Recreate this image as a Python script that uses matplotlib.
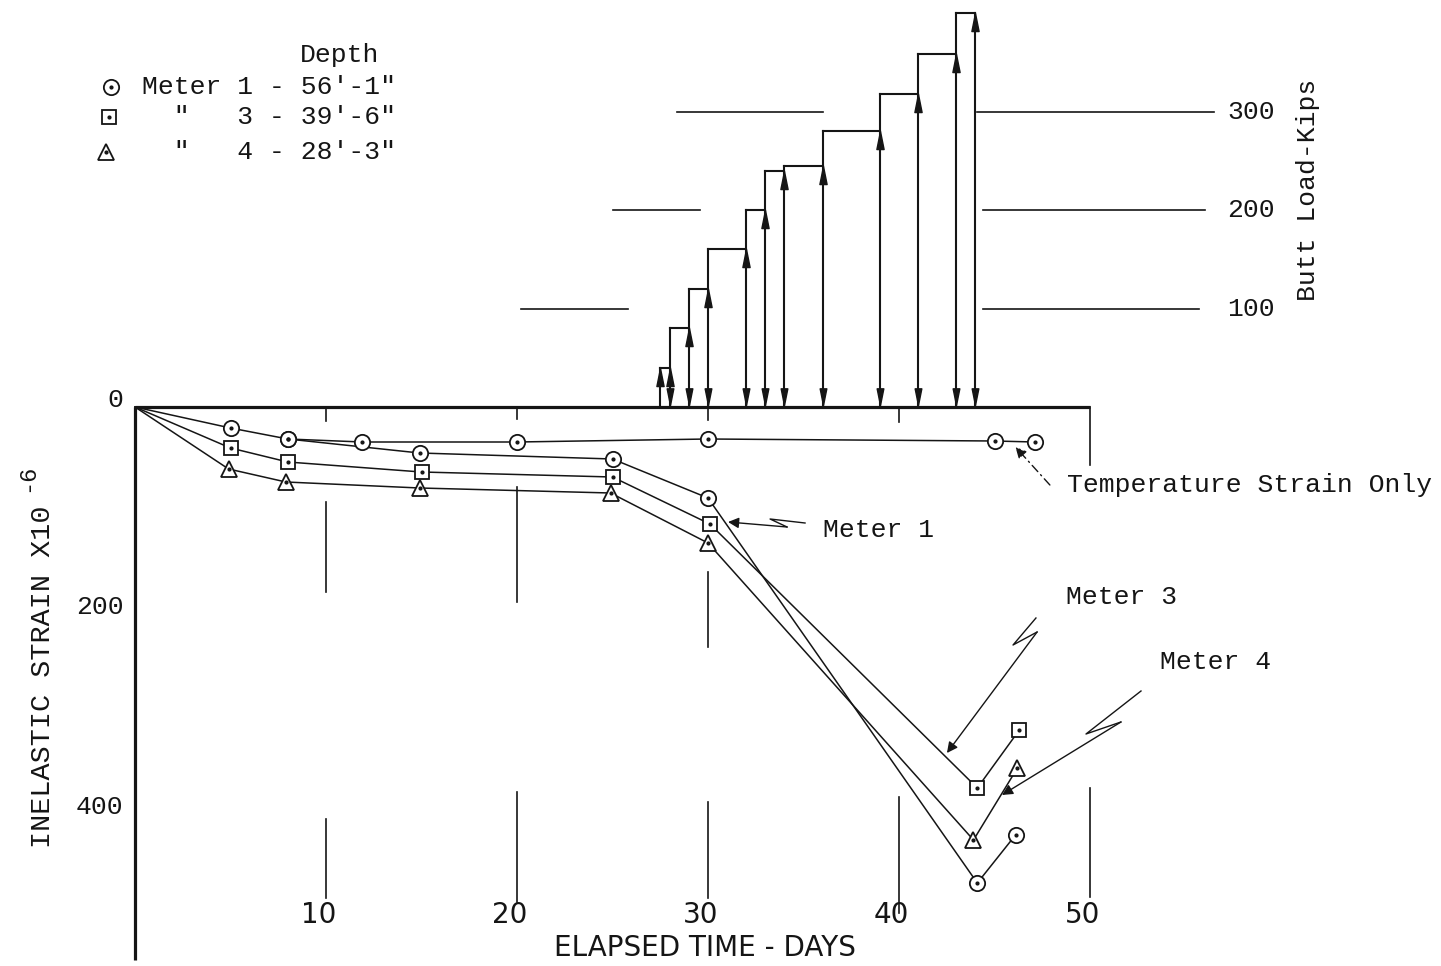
import matplotlib
matplotlib.use("Agg")
import matplotlib.pyplot as plt
from matplotlib.lines import Line2D

# ---------------------------------------------------------------- data
# inelastic strain (x10^-6) against elapsed time (days)
meter1_days = [0, 5.0, 8.0, 14.9, 25.0, 30.0, 44.1, 46.1]
meter1_strain = [0, 21, 32, 46, 52, 91, 476, 428]
meter3_days = [0, 5.0, 8.0, 15.0, 25.0, 30.1, 44.1, 46.3]
meter3_strain = [0, 41, 55, 65, 70, 117, 381, 323]
meter4_days = [0, 4.9, 7.9, 14.9, 24.9, 30.0, 43.9, 46.2]
meter4_strain = [0, 62, 75, 81, 86, 136, 433, 361]
temp_days = [8.0, 11.9, 20.0, 30.0, 45.0, 47.1]
temp_strain = [32, 35, 35, 32, 34, 35]

# butt load history: day of each load change and the load held after it
load_change_days = [27.5, 28, 29, 30, 32, 33, 34, 36, 39, 41, 43, 44]
load_levels_kips = [40, 80, 120, 160, 200, 240, 245, 280, 318, 358, 400]

day_ticks = [10, 20, 30, 40, 50]
strain_ticks = [0, 200, 400]
load_ticks = [100, 200, 300]

legend_rows = ["Meter 1 - 56'-1\"", "  \"   3 - 39'-6\"", "  \"   4 - 28'-3\""]

# ---------------------------------------------------------------- layout
W, H, DPI = 1441, 966, 100
ink = "#151515"
mono = ["Liberation Mono", "DejaVu Sans Mono"]
narrow = ["Liberation Sans Narrow", "DejaVu Sans"]

fig = plt.figure(figsize=(W / DPI, H / DPI), dpi=DPI)
fig.patch.set_facecolor("white")

X0_PX, X50_PX, Y0_PX = 135, 1090, 407
STRAIN_PX = 1.0      # pixels per microstrain
LOAD_PX = 0.985      # pixels per kip


def fx(px):
    return px / W


def fy(py):
    return 1 - py / H


ax = fig.add_axes([fx(X0_PX), 0, (X50_PX - X0_PX) / W, 1])
ax.set_xlim(0, 50)
ax.set_ylim((H - Y0_PX) / STRAIN_PX, -Y0_PX / STRAIN_PX)
ax.set_axis_off()

ax2 = ax.twinx()
ax2.set_ylim(-(H - Y0_PX) / LOAD_PX, Y0_PX / LOAD_PX)
ax2.set_axis_off()

# ---------------------------------------------------------------- frame
ax.plot([0, 50], [0, 0], color=ink, lw=2.3, solid_capstyle="butt", clip_on=False, zorder=6)
ax.plot([0, 0], [0, 553], color=ink, lw=2.3, solid_capstyle="butt", clip_on=False, zorder=6)

# vertical reference segments for the day scale (day, from, to) in strain units
day_segments = [
    (10, 0, 14), (20, 0, 12), (30, 0, 13), (40, 0, 15), (50, 0, 58),
    (10, 95, 185), (20, 80, 195), (30, 165, 240),
    (10, 412, 491), (20, 385, 495), (30, 395, 491), (40, 390, 506), (50, 381, 490),
]
for d, s0, s1 in day_segments:
    ax.plot([d, d], [s0, s1], color=ink, lw=1.2, clip_on=False, zorder=2)

# horizontal reference segments for the load scale (load, from day, to day)
load_segments = [
    (100, 20.2, 25.8), (100, 44.4, 55.7),
    (200, 25.0, 29.6), (200, 44.4, 56.0),
    (300, 28.4, 36.0), (300, 44.1, 56.5),
]
for lv, d0, d1 in load_segments:
    ax2.plot([d0, d1], [lv, lv], color=ink, lw=1.2, clip_on=False, zorder=2)

# ---------------------------------------------------------------- load steps
for i, lvl in enumerate(load_levels_kips):
    d0, d1 = load_change_days[i], load_change_days[i + 1]
    ax2.plot([d0, d0], [0, lvl], color=ink, lw=1.5, clip_on=False, zorder=3)
    ax2.plot([d0, d1], [lvl, lvl], color=ink, lw=1.5, clip_on=False, zorder=3)
ax2.plot([load_change_days[-1]] * 2, [0, load_levels_kips[-1]], color=ink, lw=1.5,
         clip_on=False, zorder=3)

up_head = [(0, 0), (-0.2, -1), (0.2, -1), (0, 0)]
down_head = [(0, 0), (-0.2, 1), (0.2, 1), (0, 0)]
up_y = [load_levels_kips[0]] + load_levels_kips
ax2.plot(load_change_days, up_y, ls="none", marker=up_head, ms=26, color=ink,
         clip_on=False, zorder=4)
ax2.plot(load_change_days[1:], [2] * (len(load_change_days) - 1), ls="none",
         marker=down_head, ms=24, color=ink, clip_on=False, zorder=4)

# ---------------------------------------------------------------- strain series
series = [
    (meter1_days, meter1_strain, "o", 11),
    (meter3_days, meter3_strain, "s", 10),
    (meter4_days, meter4_strain, "^", 11),
]
for days, strain, mk, ms in series:
    ax.plot(days, strain, color=ink, lw=1.1, clip_on=False, zorder=3)
    ax.plot(days[1:], strain[1:], ls="none", marker=mk, ms=ms, mfc="white",
            mec=ink, mew=1.3, clip_on=False, zorder=4)
    ax.plot(days[1:], strain[1:], ls="none", marker="o", ms=2, color=ink,
            clip_on=False, zorder=5)

ax.plot(temp_days, temp_strain, color=ink, lw=1.1, clip_on=False, zorder=3)
ax.plot(temp_days, temp_strain, ls="none", marker="o", ms=11, mfc="white",
        mec=ink, mew=1.3, clip_on=False, zorder=4)
ax.plot(temp_days, temp_strain, ls="none", marker="o", ms=2, color=ink,
        clip_on=False, zorder=5)

# ---------------------------------------------------------------- call-outs
def callout(path, tip, text, text_xy, dashed=False):
    xs = [p[0] for p in path]
    ys = [p[1] for p in path]
    ls = (0, (6, 3, 1, 3)) if dashed else "-"
    if len(path) > 1:
        ax.plot(xs, ys, color=ink, lw=1.0, ls=ls, clip_on=False, zorder=3)
    ax.annotate("", xy=tip, xytext=path[-1],
                arrowprops=dict(arrowstyle="-|>", color=ink, lw=1.0, ls=ls,
                                mutation_scale=16, shrinkA=0, shrinkB=0),
                annotation_clip=False, zorder=3)
    ax.text(text_xy[0], text_xy[1], text, fontsize=19, family=mono, color=ink,
            ha="left", va="center", clip_on=False)


callout([(35.08, 116), (33.25, 112), (34.14, 120)], (31.05, 115), "Meter 1", (36.0, 123))
callout([(47.17, 211), (45.97, 238), (47.23, 225)], (42.51, 346), "Meter 3", (48.74, 190))
callout([(52.67, 284), (49.79, 327), (51.62, 315)], (45.39, 388), "Meter 4", (53.66, 255))
callout([(47.9, 78)], (46.1, 40), "Temperature Strain Only", (48.8, 78), dashed=True)

# ---------------------------------------------------------------- scale labels
for v in strain_ticks:
    ax.text(-0.6, v, str(v), fontsize=19, family=mono, color=ink, ha="right",
            va="baseline" if v == 0 else "center", clip_on=False)
for v in load_ticks:
    ax2.text(57.2, v, str(v), fontsize=19, family=mono, color=ink, ha="left",
             va="center", clip_on=False)
for v in day_ticks:
    ax.text(v - 0.4, 508, str(v), fontsize=20, family=narrow, color=ink,
            ha="center", va="center", clip_on=False)

fig.text(fx(705), fy(948), "ELAPSED TIME - DAYS", fontsize=20, family=narrow,
         color=ink, ha="center", va="center")
fig.text(fx(43), fy(677), "INELASTIC STRAIN X10", fontsize=20.5, family=mono,
         color=ink, rotation=90, ha="center", va="center")
fig.text(fx(27), fy(478), "-6", fontsize=17, family=mono, color=ink,
         rotation=90, ha="center", va="center")
fig.text(fx(1308), fy(190), "Butt Load-Kips", fontsize=19, family=mono,
         color=ink, rotation=90, ha="center", va="center")

# ---------------------------------------------------------------- key
fig.text(fx(300), fy(55), "Depth", fontsize=19, family=mono, color=ink,
         ha="left", va="center")
key_y = [87, 117, 152]
key_marks = [("o", 11), ("s", 10), ("^", 11)]
key_x = [111, 109, 106]
for row, yy, (mk, ms), xx in zip(legend_rows, key_y, key_marks, key_x):
    fig.text(fx(142), fy(yy), row, fontsize=19, family=mono, color=ink,
             ha="left", va="center")
    fig.add_artist(Line2D([fx(xx)], [fy(yy)], transform=fig.transFigure,
                          ls="none", marker=mk, ms=ms, mfc="white", mec=ink, mew=1.3))
    fig.add_artist(Line2D([fx(xx)], [fy(yy)], transform=fig.transFigure,
                          ls="none", marker="o", ms=2, color=ink))

fig.savefig("out.png", dpi=DPI, facecolor="white")
